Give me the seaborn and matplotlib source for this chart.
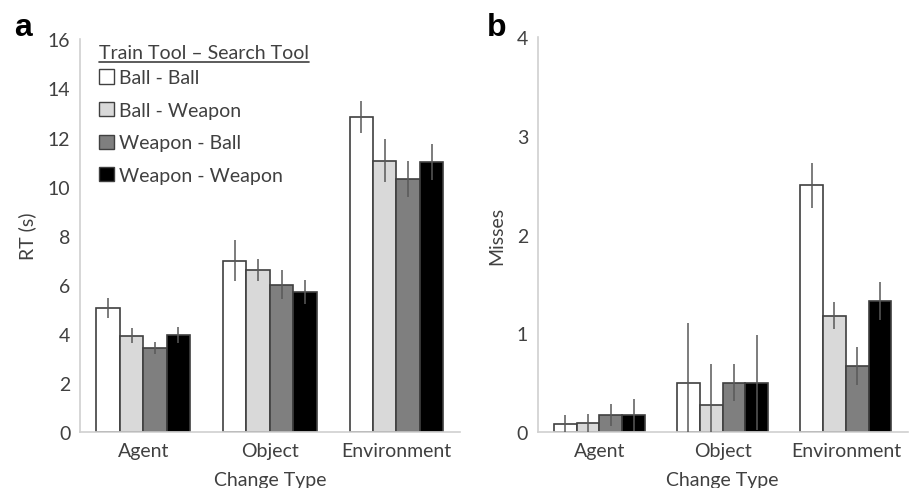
import matplotlib
matplotlib.use("Agg")
import matplotlib.pyplot as plt
import numpy as np
import pandas as pd
import seaborn as sns
from matplotlib.lines import Line2D
from matplotlib.patches import Patch

# categories and groups
change_types = ["Agent", "Object", "Environment"]
pairs = ["Ball - Ball", "Ball - Weapon", "Weapon - Ball", "Weapon - Weapon"]
bar_colors = ["#ffffff", "#d9d9d9", "#7f7f7f", "#000000"]

# panel a: RT (s), rows = change type, cols = pair
rt_mean = [[5.06, 3.92, 3.42, 3.95],
           [6.98, 6.61, 6.00, 5.69],
           [12.85, 11.06, 10.31, 11.00]]
rt_err = [[0.42, 0.30, 0.25, 0.32],
          [0.84, 0.44, 0.60, 0.49],
          [0.65, 0.88, 0.75, 0.73]]

# panel b: misses
miss_mean = [[0.08, 0.09, 0.17, 0.17],
             [0.50, 0.27, 0.50, 0.50],
             [2.50, 1.18, 0.67, 1.33]]
miss_err = [[0.09, 0.09, 0.11, 0.16],
            [0.61, 0.42, 0.19, 0.48],
            [0.23, 0.14, 0.19, 0.19]]

TXT = "#404040"
EDGE = "#404040"
SPINE = "#d0d0d0"
FS = 14

sns.set_theme(style="white")
plt.rcParams["font.family"] = ["Lato", "DejaVu Sans"]
plt.rcParams["text.color"] = TXT
plt.rcParams["axes.labelcolor"] = TXT
plt.rcParams["xtick.color"] = TXT
plt.rcParams["ytick.color"] = TXT


def to_long(means, errs, name):
    rows = []
    for i, ct in enumerate(change_types):
        for j, p in enumerate(pairs):
            rows.append({"Change Type": ct, "pair": p, name: means[i][j], "err": errs[i][j]})
    return pd.DataFrame(rows)


def draw_panel(ax, df, col, ylabel, ymax, ticks):
    sns.barplot(data=df, x="Change Type", y=col, hue="pair", hue_order=pairs,
                order=change_types, palette=bar_colors, edgecolor=EDGE,
                linewidth=1.2, errorbar=None, width=0.74, legend=False, ax=ax)
    # error bars on top of each bar
    bar_sets = list(ax.containers)
    for j, cont in enumerate(bar_sets):
        xs = [p.get_x() + p.get_width() / 2 for p in cont.patches]
        sub = df[df["pair"] == pairs[j]].set_index("Change Type").loc[change_types]
        ax.errorbar(xs, sub[col].values, yerr=sub["err"].values, fmt="none",
                    ecolor="#595959", elinewidth=1.1, capsize=0, zorder=5)
    ax.set_ylim(0, ymax)
    ax.set_xlim(-0.5, 2.5)
    ax.set_yticks(ticks)
    ax.set_ylabel(ylabel, fontsize=FS, labelpad=8)
    ax.set_xlabel("Change Type", fontsize=FS, labelpad=9)
    ax.tick_params(axis="both", labelsize=FS, length=0, pad=7)
    for s in ["top", "right"]:
        ax.spines[s].set_visible(False)
    for s in ["left", "bottom"]:
        ax.spines[s].set_color(SPINE)
        ax.spines[s].set_linewidth(1.2)


fig = plt.figure(figsize=(9.13, 4.89), dpi=100)
ax_a = fig.add_axes([0.0876, 0.1145, 0.416, 0.803])
ax_b = fig.add_axes([0.589, 0.1145, 0.405, 0.807])

draw_panel(ax_a, to_long(rt_mean, rt_err, "RT"), "RT", "RT (s)", 16, range(0, 17, 2))
draw_panel(ax_b, to_long(miss_mean, miss_err, "Misses"), "Misses", "Misses", 4, range(0, 5))

handles = [Patch(facecolor=c, edgecolor=EDGE, linewidth=1.0) for c in bar_colors]
leg = ax_a.legend(handles, pairs, title="Train Tool \u2013 Search Tool",
                  loc="upper left", bbox_to_anchor=(0.03, 1.008), frameon=False,
                  fontsize=14, title_fontsize=14, handlelength=0.75, handleheight=0.75,
                  handletextpad=0.25, labelspacing=0.8, borderaxespad=0)
leg._legend_box.align = "left"
leg._legend_box.sep = 6

# underline legend title
fig.canvas.draw()
bb = leg.get_title().get_window_extent().transformed(fig.transFigure.inverted())
fig.add_artist(Line2D([bb.x0, bb.x1], [bb.y0 - 0.003, bb.y0 - 0.003],
                      transform=fig.transFigure, color=TXT, linewidth=1.2))

fig.text(0.015, 0.926, "a", fontsize=23, fontweight="bold", color="black",
         family="Liberation Sans", va="baseline")
fig.text(0.533, 0.926, "b", fontsize=23, fontweight="bold", color="black",
         family="Liberation Sans", va="baseline")

fig.savefig("out.png", dpi=100)
